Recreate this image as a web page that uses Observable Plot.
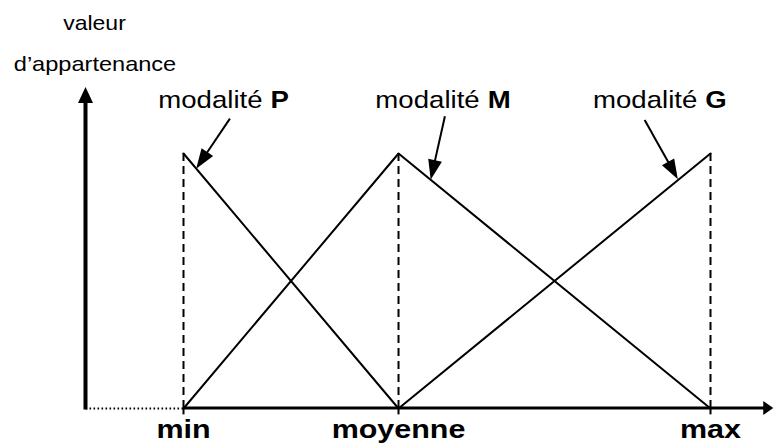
<!DOCTYPE html>
<html><head><meta charset="utf-8">
<script src="https://cdn.jsdelivr.net/npm/d3@7"></script>
<script src="https://cdn.jsdelivr.net/npm/@observablehq/plot@0.6"></script>
<style>body{margin:0;background:#fff}#chart svg{display:block}</style>
</head><body><div id="chart"></div>
<script>
// ---- data ----
const categories = ["min", "moyenne", "max"];
const categoryValues = [0, 40.8, 100];          // position on the variable axis
const modalities = ["P", "M", "G"];
const membershipP = [1, 0, null];
const membershipM = [0, 1, 0];
const membershipG = [null, 0, 1];
const yAxisTitle = ["valeur", "d’appartenance"];
const labelPrefix = "modalité";
// annotations (axis units): end of the word "modalité", arrow start, arrow tip x
const labelEndX = [15.0, 56.2, 97.5];
const labelY = 1.178;
const arrowStartX = [8.9, 49.7, 87.6];
const arrowStartY = [1.135, 1.144, 1.129];
const arrowTipX = [2.5, 47.0, 93.9];
// axis extents (axis units)
const axisOriginX = -18.5;
const axisTopY = 1.259;
const axisEndX = 112;

// ---- derived ----
const memberships = [membershipP, membershipM, membershipG];
const curves = modalities.flatMap((m, i) =>
  categoryValues.map((x, j) => ({m, x, y: memberships[i][j]})).filter(d => d.y != null));
function membershipAt(i, x) {
  const pts = curves.filter(d => d.m === modalities[i]);
  for (let k = 0; k < pts.length - 1; k++) {
    const a = pts[k], b = pts[k + 1];
    if (x >= a.x && x <= b.x) return a.y + (b.y - a.y) * (x - a.x) / (b.x - a.x);
  }
  return 0;
}
const annotations = modalities.map((m, i) => ({
  m, lx: labelEndX[i], ly: labelY,
  x1: arrowStartX[i], y1: arrowStartY[i], x2: arrowTipX[i], y2: membershipAt(i, arrowTipX[i])
}));
const arrowSpecs = [
  {x1: axisOriginX, y1: 0, x2: axisOriginX, y2: axisTopY, w: 4, head: 16, half: 7.5, extendStart: 1.5},
  {x1: 0, y1: 0, x2: axisEndX, y2: 0, w: 3, head: 10, half: 7, extendStart: 0},
  ...annotations.map(a => ({x1: a.x1, y1: a.y1, x2: a.x2, y2: a.y2, w: 2, head: 20, half: 7, extendStart: 0}))
];

function arrows(specs) {
  return (index, scales) => {
    const g = d3.create("svg:g").attr("aria-label", "arrows");
    for (const s of specs) {
      const X1 = scales.x(s.x1), Y1 = scales.y(s.y1), X2 = scales.x(s.x2), Y2 = scales.y(s.y2);
      const dx = X2 - X1, dy = Y2 - Y1, L = Math.hypot(dx, dy), ux = dx / L, uy = dy / L;
      const bx = X2 - ux * s.head, by = Y2 - uy * s.head;
      g.append("line")
        .attr("x1", X1 - ux * s.extendStart).attr("y1", Y1 - uy * s.extendStart)
        .attr("x2", bx + ux * 2).attr("y2", by + uy * 2)
        .attr("stroke", "black").attr("stroke-width", s.w);
      g.append("path")
        .attr("d", `M${X2},${Y2}L${bx - uy * s.half},${by + ux * s.half}L${bx + uy * s.half},${by - ux * s.half}Z`)
        .attr("fill", "black");
    }
    return g.node();
  };
}

const font = "'Liberation Sans', Arial, sans-serif";
const chart = Plot.plot({
  width: 774, height: 443,
  marginLeft: 183, marginRight: 64, marginTop: 153, marginBottom: 35,
  x: {domain: [0, 100], axis: null},
  y: {domain: [0, 1], axis: null},
  style: {background: "white", overflow: "visible", fontFamily: font, color: "black"},
  marks: [
    // dotted baseline between the y axis and min
    Plot.ruleY([0], {x1: () => axisOriginX, x2: () => 0, stroke: "black", strokeWidth: 2, strokeDasharray: "1.6,2.4"}),
    // dashed verticals at min / moyenne / max
    Plot.ruleX(categoryValues, {y1: () => 1, y2: () => 0, stroke: "black", strokeWidth: 2, strokeDasharray: "8,5"}),
    Plot.ruleX(categoryValues, {y1: () => 0, y2: () => -0.025, stroke: "black", strokeWidth: 2}),
    // membership functions
    Plot.line(curves, {x: "x", y: "y", z: "m", stroke: "black", strokeWidth: 2}),
    // axes and annotation arrows
    arrows(arrowSpecs),
    // category labels
    Plot.text(categories, {x: (d, i) => categoryValues[i], y: () => 0, text: d => d, dy: 29,
      lineAnchor: "bottom", fontSize: 26.5, fontWeight: "bold", fill: "black", fontFamily: font}),
    // y axis title
    Plot.text([yAxisTitle[0]], {x: () => axisOriginX, y: () => axisTopY, text: d => d, dx: 8.5, dy: -57.7,
      lineAnchor: "bottom", fontSize: 20, fill: "black", fontFamily: font}),
    Plot.text([yAxisTitle[1]], {x: () => axisOriginX, y: () => axisTopY, text: d => d, dx: 9, dy: -16.3,
      lineAnchor: "bottom", fontSize: 20.5, fill: "black", fontFamily: font}),
    // modality labels
    Plot.text(annotations, {x: "lx", y: "ly", text: () => labelPrefix, textAnchor: "end",
      lineAnchor: "bottom", fontSize: 24, fill: "black", fontFamily: font}),
    Plot.text(annotations, {x: "lx", y: "ly", text: "m", textAnchor: "start", dx: 8,
      lineAnchor: "bottom", fontSize: 24, fontWeight: "bold", fill: "black", fontFamily: font})
  ]
});
// the reference's lettering is horizontally stretched
chart.querySelectorAll("text").forEach(t => {
  const tr = t.getAttribute("transform");
  if (tr) t.setAttribute("transform", tr + " scale(1.15,1)");
  else {
    const x = +t.getAttribute("x") || 0, y = +t.getAttribute("y") || 0;
    t.removeAttribute("x"); t.removeAttribute("y");
    t.setAttribute("transform", `translate(${x},${y}) scale(1.15,1)`);
  }
});
document.getElementById("chart").appendChild(chart);
</script>
</body></html>
